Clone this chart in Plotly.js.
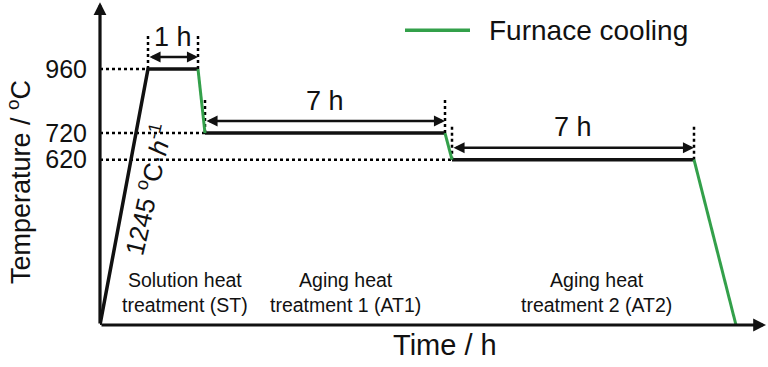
<!DOCTYPE html>
<html><head><meta charset="utf-8">
<script src="https://cdn.plot.ly/plotly-3.0.1.min.js"></script>
<style>html,body{margin:0;padding:0;background:#fff}</style>
</head><body><div id="chart" style="width:768px;height:367px"></div>
<script>
// Schematic time positions along the (unscaled) time axis and temperatures (°C)
const stageTime = [0, 48, 98, 105, 345, 352, 594, 636];
const stageTemp = [0, 960, 960, 720, 720, 620, 620, 0];
const holdLevels = [960, 720, 620];
const holdLabels = ['960', '720', '620'];
const durationLabels = ['1 h', '7 h', '7 h'];
const stageNames = ['Solution heat<br>treatment (ST)', 'Aging heat<br>treatment 1 (AT1)', 'Aging heat<br>treatment 2 (AT2)'];
const stageNameTime = [85, 245, 496];
const stageNameTemp = [122, 122, 122];
const heatingRate = '1245 <sup>o</sup>C·<i>h</i><sup>-1</sup>';
const legendText = 'Furnace cooling';
const xTitle = 'Time / h';
const yTitle = 'Temperature / <sup>o</sup>C';

const FONT = 'Liberation Sans, Arial, sans-serif';
const GREEN = '#33a04a';
const holdIdx = [[1, 2], [3, 4], [5, 6]];
const blackRuns = [[0, 1, 2], [3, 4], [5, 6]];
const greenRuns = [[2, 3], [4, 5], [6, 7]];

function runsXY(runs) {
  const x = [], y = [];
  runs.forEach((r, k) => {
    if (k) { x.push(null); y.push(null); }
    r.forEach(i => { x.push(stageTime[i]); y.push(stageTemp[i]); });
  });
  return {x, y};
}
const bl = runsXY(blackRuns), gr = runsXY(greenRuns);

// dotted guide lines
const dx = [], dy = [];
holdIdx.forEach(([a, b]) => {
  const T = stageTemp[a];
  dx.push(0, stageTime[a], null); dy.push(T, T, null);
  dx.push(stageTime[a], stageTime[a], null); dy.push(T, T + 130, null);
  dx.push(stageTime[b], stageTime[b], null); dy.push(T, T + 130, null);
});

const traces = [
  {x: dx, y: dy, mode: 'lines', line: {color: '#000', width: 2.5, dash: 'dot'}, showlegend: false, hoverinfo: 'skip'},
  {x: bl.x, y: bl.y, mode: 'lines', line: {color: '#111', width: 3.5}, showlegend: false},
  {x: gr.x, y: gr.y, mode: 'lines', line: {color: GREEN, width: 3}, name: legendText, showlegend: false},
  // legend sample
  {x: [305, 370], y: [1106, 1106], mode: 'lines', line: {color: GREEN, width: 3.5}, showlegend: false, hoverinfo: 'skip'}
];

const ann = [];
// axis arrows
ann.push({x: 666, y: 0, ax: 0, ay: 0, xref: 'x', yref: 'y', axref: 'x', ayref: 'y', text: '', showarrow: true,
  arrowhead: 2, arrowwidth: 3.2, arrowsize: 0.8, arrowcolor: '#111', standoff: 0, startstandoff: 0});
ann.push({x: 0, y: 1211, ax: 0, ay: 0, xref: 'x', yref: 'y', axref: 'x', ayref: 'y', text: '', showarrow: true,
  arrowhead: 2, arrowwidth: 3.2, arrowsize: 0.8, arrowcolor: '#111', standoff: 0, startstandoff: 0});
// duration dimension arrows + labels
holdIdx.forEach(([a, b], k) => {
  const T = stageTemp[a];
  ann.push({x: stageTime[b], y: T + 45, ax: stageTime[a], ay: T + 45, xref: 'x', yref: 'y', axref: 'x', ayref: 'y',
    text: '', showarrow: true, arrowside: 'end+start', arrowhead: 2, arrowwidth: 2.6, arrowsize: 0.85,
    arrowcolor: '#111', standoff: 0, startstandoff: 0});
  ann.push({x: (stageTime[a] + stageTime[b]) / 2, y: T + 122, xref: 'x', yref: 'y', text: durationLabels[k],
    showarrow: false, font: {family: FONT, size: 27, color: '#111'}});
});
// stage names
stageNames.forEach((s, k) => ann.push({x: stageNameTime[k], y: stageNameTemp[k], xref: 'x', yref: 'y', text: s,
  showarrow: false, font: {family: FONT, size: 19.5, color: '#111'}}));
// heating rate
ann.push({x: 47, y: 506, xref: 'x', yref: 'y', text: heatingRate, textangle: -77, showarrow: false,
  font: {family: FONT, size: 26, color: '#111'}});
// legend text
ann.push({x: 387, y: 1106, xref: 'x', yref: 'y', text: legendText, xanchor: 'left', yanchor: 'middle', showarrow: false,
  font: {family: FONT, size: 28, color: '#111'}});
// axis titles
ann.push({x: 0.5165, y: -0.0615, xref: 'paper', yref: 'paper', xanchor: 'center', yanchor: 'middle',
  text: xTitle, showarrow: false, font: {family: FONT, size: 29, color: '#111'}});
ann.push({x: -0.1213, y: 0.44, xref: 'paper', yref: 'paper', xanchor: 'center', yanchor: 'middle',
  text: yTitle, textangle: -90, showarrow: false, font: {family: FONT, size: 27, color: '#111'}});

const layout = {
  width: 768, height: 367,
  margin: {l: 100, r: 0, t: 0, b: 42},
  paper_bgcolor: '#fff', plot_bgcolor: '#fff',
  font: {family: FONT, color: '#111'},
  showlegend: false,
  xaxis: {range: [0, 668], showgrid: false, zeroline: false, showline: false, showticklabels: false, ticks: ''},
  yaxis: {range: [0, 1219], showgrid: false, zeroline: false, showline: false, ticks: '',
    tickvals: holdLevels, ticktext: holdLabels, tickfont: {family: FONT, size: 25, color: '#111'},
    ticklabelstandoff: 12},
  annotations: ann
};

Plotly.newPlot('chart', traces, layout, {staticPlot: true, displayModeBar: false});
</script></body></html>
